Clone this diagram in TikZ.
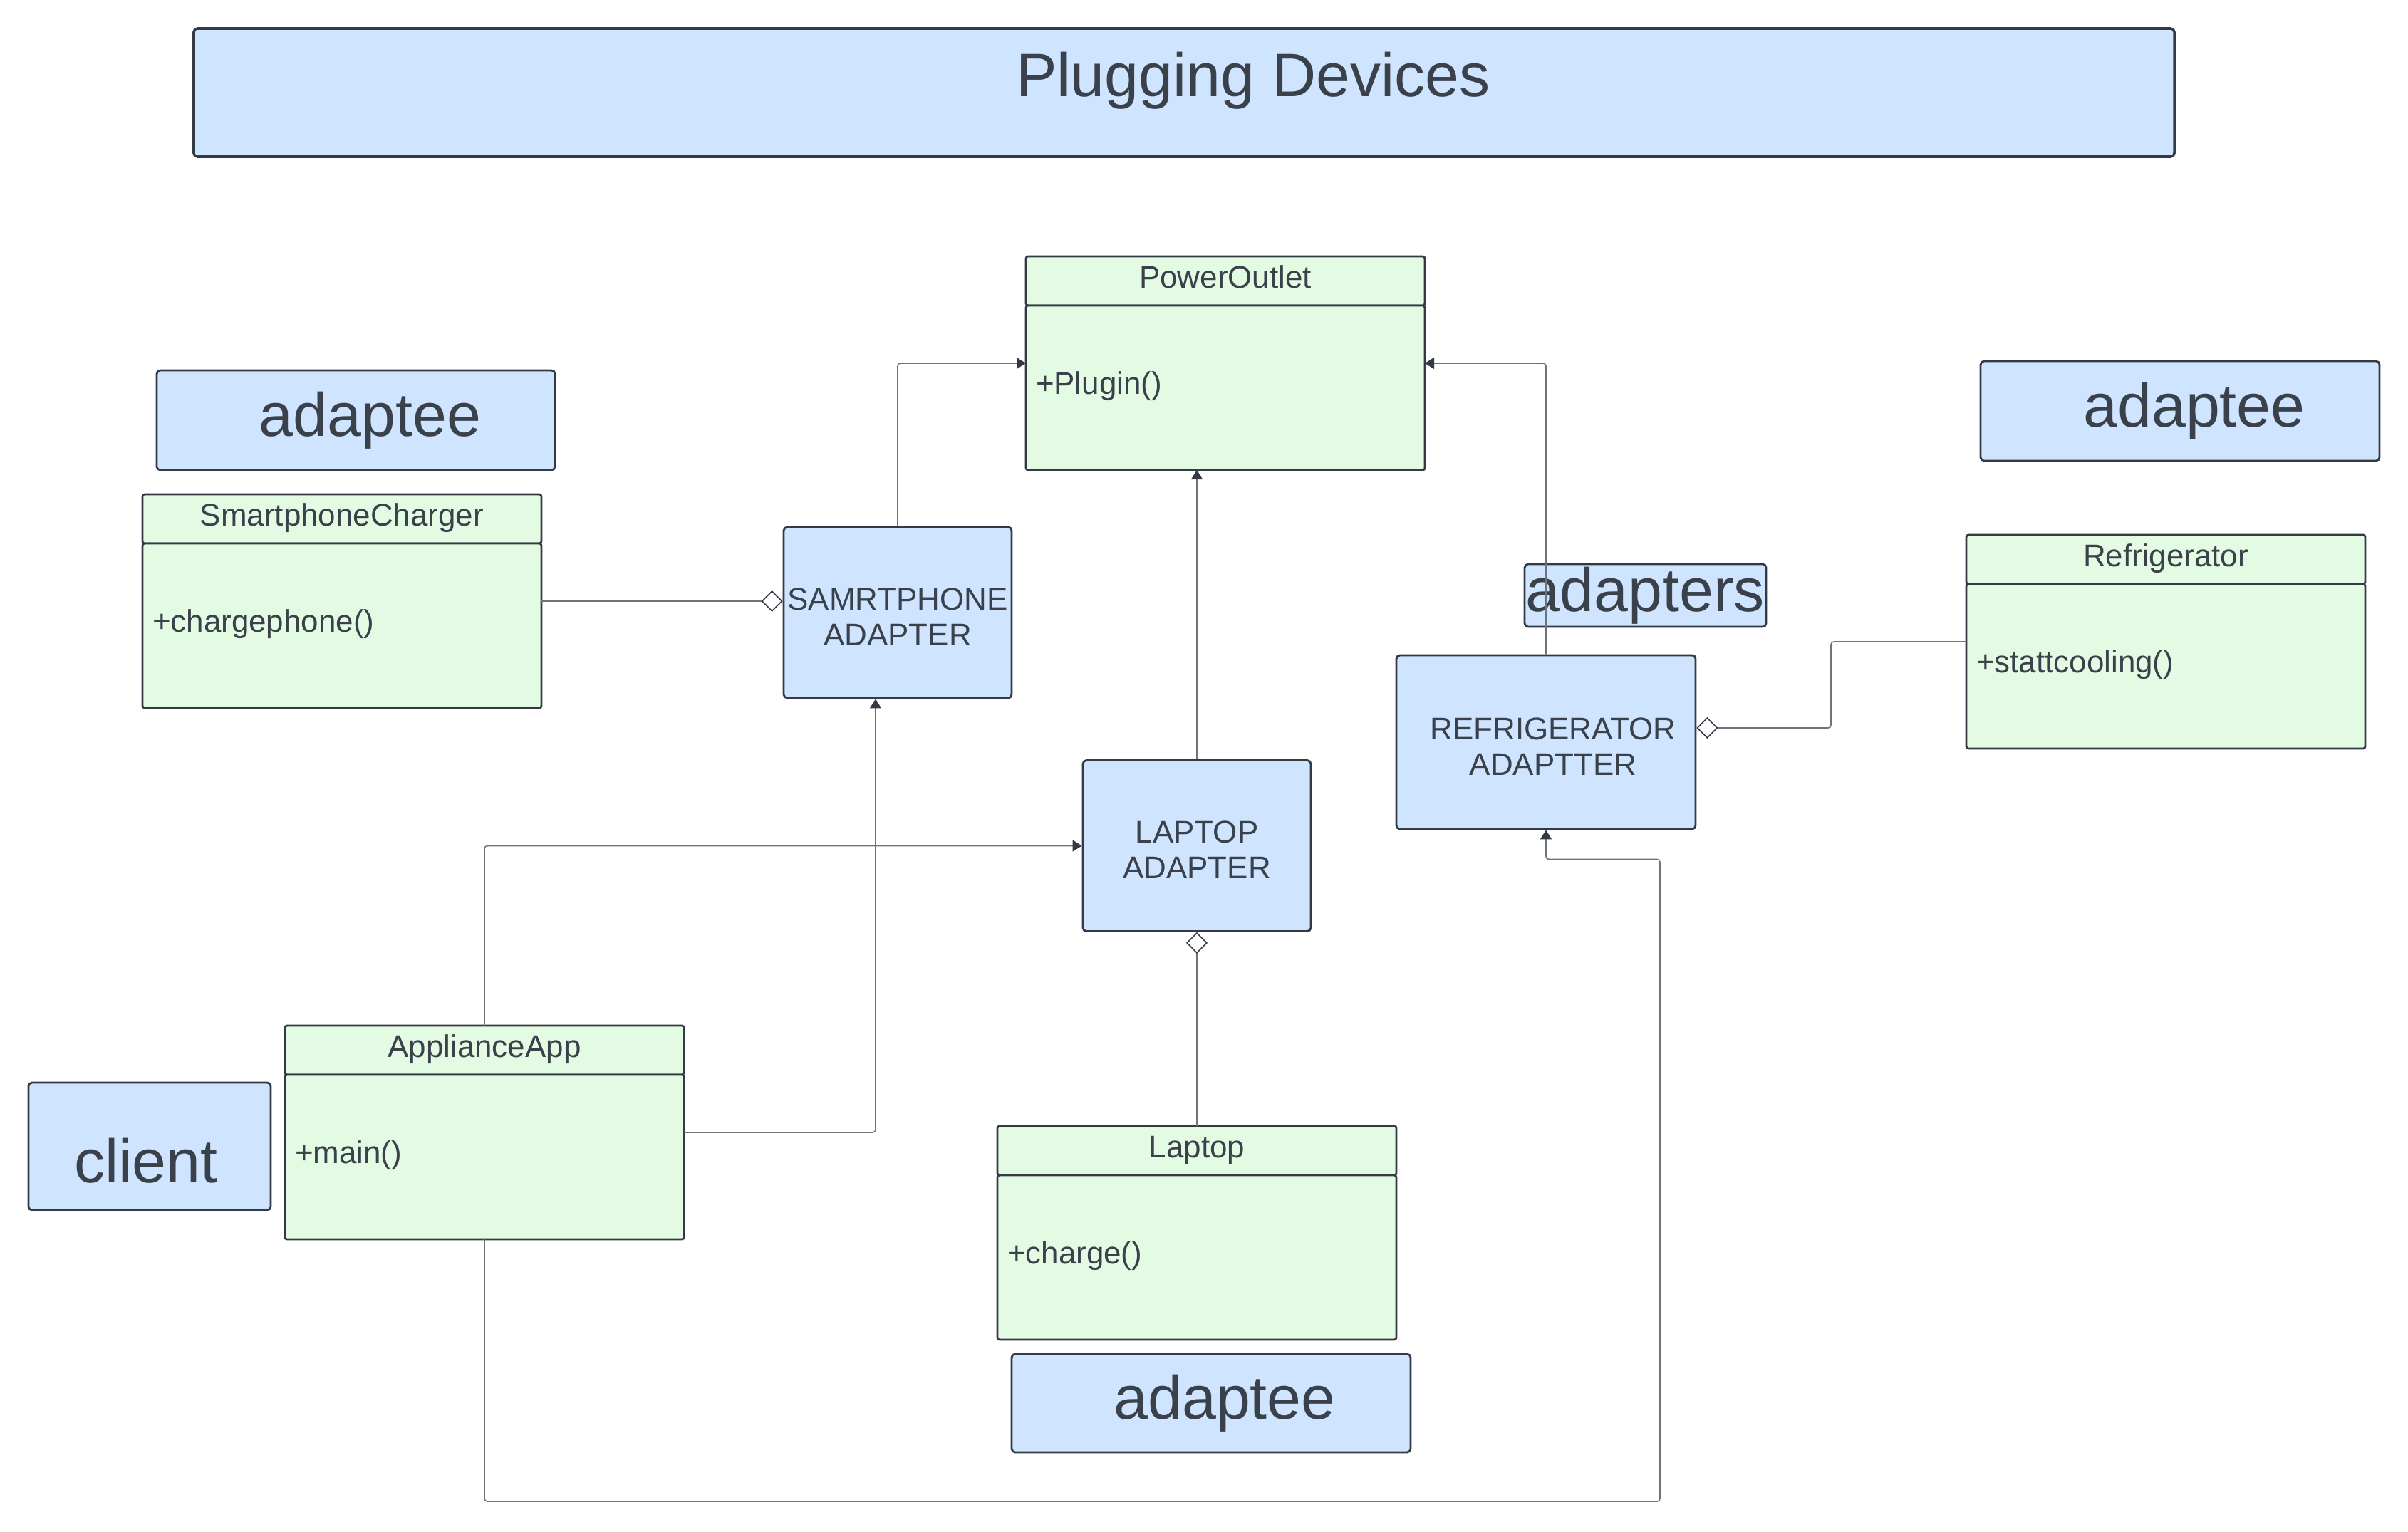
\documentclass[tikz,border=0pt]{standalone}
\usepackage{fontspec}
\setmainfont{Liberation Sans}
\usepackage{xcolor}
\usepackage{tikz}
\usetikzlibrary{arrows.meta,positioning}
\definecolor{lcblue}{HTML}{CFE4FF}
\definecolor{lcgreen}{HTML}{E3FAE3}
\definecolor{lcink}{HTML}{3A414A}
\definecolor{lcedge}{HTML}{333A44}
\definecolor{lcwire}{HTML}{6E737B}

\begin{document}
\begin{tikzpicture}[
  every node/.style={text=lcink},
  box/.style={draw=lcedge, line width=0.8pt, rounded corners=0.05cm, inner sep=0pt},
  tagbox/.style={box, fill=lcblue, font=\fontsize{24.5}{29}\selectfont},
  adapter/.style={box, fill=lcblue, align=center, minimum height=2.4cm, text height=0.92cm,
    font=\fontsize{12.5}{14.2}\selectfont},
  classhead/.style={box, fill=lcgreen, rounded corners=0.03cm, outer sep=0pt, minimum width=5.6cm,
    minimum height=0.69cm, text height=0.33cm, text depth=0.13cm, anchor=north west,
    font=\fontsize{12.5}{15}\selectfont},
  classbody/.style={box, fill=lcgreen, rounded corners=0.03cm, outer sep=0pt, minimum width=5.6cm,
    minimum height=2.31cm, text width=5.32cm, inner xsep=0.14cm, align=left, text height=0.33cm,
    text depth=0.16cm, font=\fontsize{12.5}{15}\selectfont},
  link/.style={draw=lcwire, line width=0.45pt, rounded corners=0.04cm},
  realize/.style={link, -{Triangle[length=1.3mm, width=1.6mm, color=lcedge]}},
  aggr/.style={link, -{Diamond[open, length=3mm, width=3mm, color=lcedge]}}
]
\useasboundingbox (0,0) rectangle (33.8,-21.5);

% title and role labels
\node[tagbox, minimum width=27.8cm, minimum height=1.8cm, line width=1pt] (title) at (16.62,-1.30)
  {\hspace*{1.94cm}\raisebox{0.17cm}[0.62cm][0.18cm]{Plugging Devices}};
\node[tagbox, minimum width=5.59cm, minimum height=1.4cm] (adapteeL) at (4.995,-5.90) {\hspace*{0.4cm}adaptee};
\node[tagbox, minimum width=5.6cm, minimum height=1.4cm] (adapteeR) at (30.60,-5.77) {\hspace*{0.4cm}adaptee};
\node[tagbox, minimum width=5.6cm, minimum height=1.38cm] (adapteeB) at (17.00,-19.70) {\hspace*{0.38cm}adaptee};
\node[tagbox, minimum width=3.39cm, minimum height=0.88cm] (adapters) at (23.095,-8.36) {adapters};
\node[tagbox, minimum width=3.4cm, minimum height=1.79cm] (client) at (2.10,-16.095) {\raisebox{-0.20cm}[0.62cm][0pt]{client}\hspace*{0.1cm}};

% classes: name compartment, then operations below it
\node[classhead] (outletH) at (14.40,-3.60) {PowerOutlet};
\node[classbody, below=0pt of outletH] (outlet) {+Plugin()};
\node[classhead] (chargerH) at (2.00,-6.94) {SmartphoneCharger};
\node[classbody, below=0pt of chargerH] (charger) {+chargephone()};
\node[classhead] (fridgeH) at (27.60,-7.51) {Refrigerator};
\node[classbody, below=0pt of fridgeH] (fridge) {+stattcooling()};
\node[classhead] (appH) at (4.00,-14.40) {ApplianceApp};
\node[classbody, below=0pt of appH] (app) {+main()};
\node[classhead] (laptopH) at (14.00,-15.81) {Laptop};
\node[classbody, below=0pt of laptopH] (laptop) {+charge()};

% adapters
\node[adapter, minimum width=3.2cm] (phoneAd) at (12.60,-8.60) {SAMRTPHONE\\ADAPTER};
\node[adapter, minimum width=3.2cm] (laptopAd) at (16.80,-11.875) {LAPTOP\\ADAPTER};
\node[adapter, minimum width=4.2cm, minimum height=2.44cm] (fridgeAd) at (21.70,-10.42)
  {\hspace*{0.2cm}REFRIGERATOR\\\hspace*{0.2cm}ADAPTTER};

\coordinate (loopCorner) at (23.30,-21.08);

% connectors
\draw[realize] (phoneAd.north) |- ([yshift=0.345cm]outlet.west);
\draw[realize] (fridgeAd.north) |- ([yshift=0.345cm]outlet.east);
\draw[realize] (laptopAd.north) -- (laptopAd.north |- outlet.south);
\draw[aggr] ([yshift=0.345cm]charger.east) -- ([yshift=0.345cm]charger.east -| phoneAd.west);
\draw[aggr] (laptopH.north) -- (laptopAd.south);
\draw[aggr] ([yshift=0.345cm]fridge.west) -- ([xshift=-1.9cm, yshift=0.345cm]fridge.west) |- ([yshift=0.2cm]fridgeAd.east);
\draw[realize] ([yshift=0.345cm]app.east) -| ([xshift=-0.31cm]phoneAd.south);
\draw[realize] (appH.north) |- (laptopAd.west);
\draw[realize] (app.south) |- (loopCorner) |- ([yshift=-0.41cm]fridgeAd.south) -- (fridgeAd.south);
\end{tikzpicture}
\end{document}
